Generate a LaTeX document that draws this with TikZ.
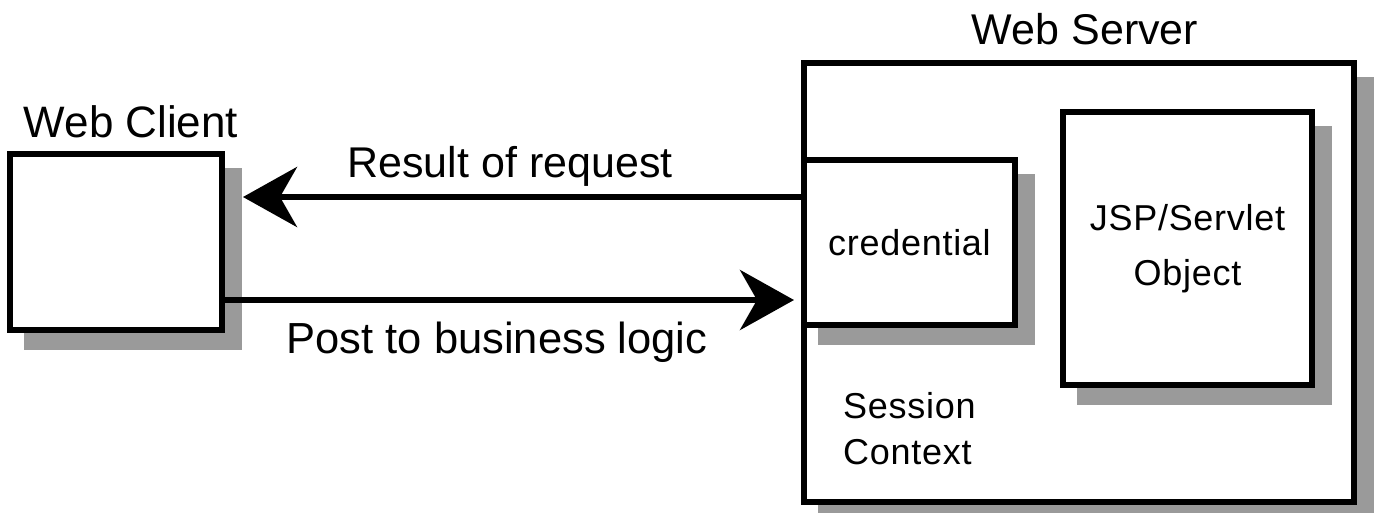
\documentclass[tikz,border=0pt]{standalone}
\usepackage{fontspec}
\setmainfont{Liberation Sans}
\usetikzlibrary{arrows.meta,shadows,calc}
\definecolor{shadowc}{HTML}{9A9A9A}
\begin{document}
\begin{tikzpicture}[x=1pt,y=-1pt,
  box/.style={rectangle, draw=black, line width=6pt, fill=white, inner sep=0pt,
    general shadow={fill=shadowc, draw=shadowc, line width=6pt, shadow xshift=17pt, shadow yshift=-17pt}},
  lbl/.style={font=\fontsize{43}{48}\selectfont, anchor=base, inner sep=0pt},
  inlbl/.style={font=\fontsize{36}{55}\selectfont\addfontfeature{LetterSpace=2}},
  arr/.style={line width=6pt, -{Stealth[length=54pt,width=60pt,inset=17pt]}}]
\useasboundingbox (0,0) rectangle (1374,512);
\node[box, minimum width=212pt, minimum height=176pt] (client) at (116,242) {};
\node[box, minimum width=550pt, minimum height=439pt] (server) at (1079,282.5) {};
\node[box, inlbl, minimum width=211pt, minimum height=165pt] (cred) at (909.5,242.5) {credential};
\node[box, inlbl, align=center, minimum width=249pt, minimum height=273pt] (jsp) at (1187.5,248.5) {JSP/Servlet\\Object};
\node[inlbl, anchor=base west, inner sep=0pt] (sess) at (843,418) {Session};
\node[inlbl, anchor=base west, inner sep=0pt] (ctx) at (843,464) {Context};
\node[lbl, font=\fontsize{44}{48}\selectfont] (lclient) at (131,137) {Web Client};
\node[lbl] (lserver) at (1085,44) {Web Server};
\node[lbl] (lres) at (510,177) {Result of request};
\node[lbl, font=\fontsize{43.5}{48}\selectfont] (lpost) at (497,353) {Post to business logic};
\coordinate (ya) at (0,197);
\coordinate (yb) at (0,300);
\draw[arr] (cred.west |- ya) -- ($(client.east |- ya)+(18,0)$);
\draw[arr] (client.east |- yb) -- ($(server.west |- yb)+(-7,0)$);
\end{tikzpicture}
\end{document}
